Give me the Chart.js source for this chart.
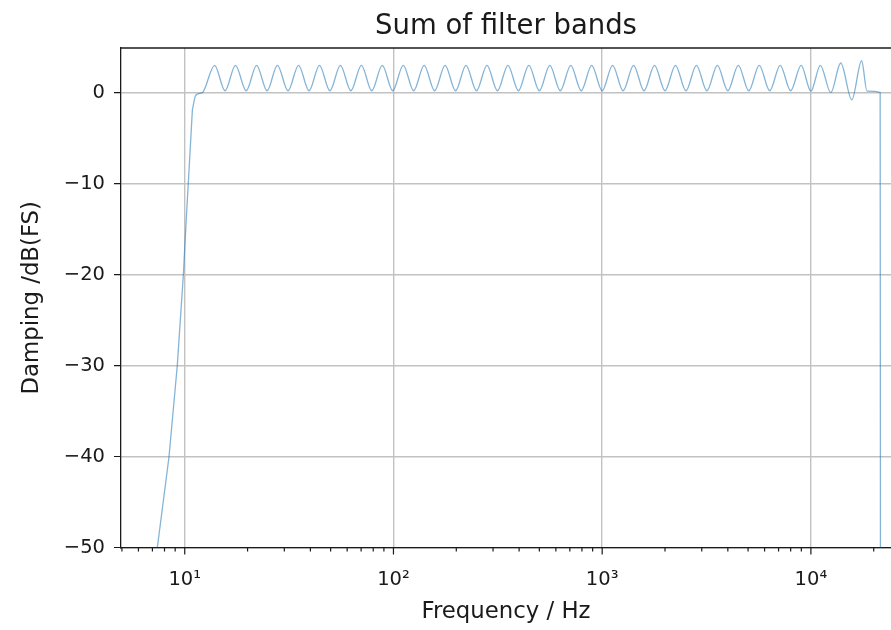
<!DOCTYPE html>
<html>
<head>
<meta charset="utf-8">
<title>Sum of filter bands</title>
<script src="https://cdn.jsdelivr.net/npm/chart.js@4.4.1/dist/chart.umd.min.js"></script>
<style>
    html, body { margin: 0; padding: 0; background: #fff; overflow: hidden; }
    #wrap { width: 891px; height: 630px; position: relative; }
</style>
</head>
<body>
<div id="wrap"><canvas id="chart"></canvas></div>
<script>
// summed response of the 1/3-octave bank
// steep low-frequency edge (drawn with straight segments)
const edgeFreqHz = [7.39, 8.41, 9.21, 9.85, 10.11, 10.88];
const edgeDampingDb = [-50, -40, -30, -20, -15, -1.9];

// knee, ripple and high-frequency cut-off
const freqHz = [
    10.88, 11.29, 12.15,
    13.9, 15.6, 17.5, 19.7, 22.1, 24.8, 27.8, 31.25, 35.1, 39.4,
    44.2, 49.6, 55.7, 62.5, 70.2, 78.7, 88.4, 99.2,
    111.4, 125, 140.3, 157.5, 176.8, 198.4, 222.7, 250, 280.6, 315,
    353.6, 396.9, 445.4, 500, 561.2, 630, 707.1, 793.7, 890.9, 1000,
    1122, 1260, 1414, 1587, 1782, 2000, 2245, 2520, 2828, 3175,
    3564, 4000, 4490, 5040, 5657, 6350, 7127, 8000, 8980, 10000,
    11100, 12450, 13900, 15700, 17500, 18580, 21470, 21550
];
const dampingDb = [
    -1.9, -0.3, 0,
    3.0, 0.2, 3.0, 0.2, 3.0, 0.2, 3.0, 0.2, 3.0, 0.2,
    3.0, 0.2, 3.0, 0.2, 3.0, 0.2, 3.0, 0.2,
    3.0, 0.2, 3.0, 0.2, 3.0, 0.2, 3.0, 0.2, 3.0, 0.2,
    3.0, 0.2, 3.0, 0.2, 3.0, 0.2, 3.0, 0.2, 3.0, 0.2,
    3.0, 0.2, 3.0, 0.2, 3.0, 0.2, 3.0, 0.2, 3.0, 0.2,
    3.0, 0.2, 3.0, 0.2, 3.0, 0.2, 3.0, 0.2, 3.0, 0.15,
    3.0, 0.0, 3.25, -0.8, 3.5, 0.15, 0.0, -60
];

const xMajorTicks = [10, 100, 1000, 10000];
const xTickLabels = ['10¹', '10²', '10³', '10⁴'];
const xMinorTicks = [
    5, 6, 7, 8, 9,
    20, 30, 40, 50, 60, 70, 80, 90,
    200, 300, 400, 500, 600, 700, 800, 900,
    2000, 3000, 4000, 5000, 6000, 7000, 8000, 9000,
    20000
];
const yTicks = [-50, -40, -30, -20, -10, 0];
const yTickLabels = ['−50', '−40', '−30', '−20', '−10', '0'];

const FONT = 'DejaVu Sans';
const INK = '#1a1a1a';
const LINE = 'rgba(31, 119, 180, 0.55)';

const toPoints = (xs, ys) => xs.map((x, i) => ({ x, y: ys[i] }));

// top spine, tick marks (major + minor) and the title centred over the axes
const axesFrame = {
    id: 'axesFrame',
    afterDraw(chart) {
        const { ctx, chartArea: area, scales: { x, y } } = chart;
        ctx.save();
        ctx.strokeStyle = INK;
        ctx.lineWidth = 1.3;
        ctx.beginPath();
        ctx.moveTo(area.left, area.top);
        ctx.lineTo(area.right, area.top);
        ctx.stroke();

        ctx.lineWidth = 1.2;
        ctx.beginPath();
        xMajorTicks.forEach((v) => {
            const px = x.getPixelForValue(v);
            ctx.moveTo(px, area.bottom);
            ctx.lineTo(px, area.bottom + 7);
        });
        xMinorTicks.forEach((v) => {
            const px = x.getPixelForValue(v);
            if (px < area.left || px > area.right) return;
            ctx.moveTo(px, area.bottom);
            ctx.lineTo(px, area.bottom + 4);
        });
        yTicks.forEach((v) => {
            const py = y.getPixelForValue(v);
            ctx.moveTo(area.left - 7, py);
            ctx.lineTo(area.left, py);
        });
        ctx.stroke();

        ctx.fillStyle = INK;
        ctx.font = `27.5px "${FONT}"`;
        ctx.textAlign = 'center';
        ctx.textBaseline = 'alphabetic';
        ctx.fillText('Sum of filter bands', (area.left + area.right) / 2, 34);
        ctx.restore();
    }
};

new Chart(document.getElementById('chart'), {
    type: 'line',
    data: {
        datasets: [{
            data: toPoints(edgeFreqHz, edgeDampingDb),
            borderColor: LINE,
            borderWidth: 1.3,
            pointRadius: 0,
            fill: false,
            tension: 0
        }, {
            data: toPoints(freqHz, dampingDb),
            borderColor: LINE,
            borderWidth: 1.3,
            pointRadius: 0,
            fill: false,
            cubicInterpolationMode: 'monotone'
        }]
    },
    options: {
        responsive: true,
        maintainAspectRatio: false,
        animation: false,
        layout: { padding: { top: 48, left: 0, right: 0, bottom: 0 } },
        plugins: {
            legend: { display: false },
            tooltip: { enabled: false },
            title: { display: false }
        },
        scales: {
            x: {
                type: 'logarithmic',
                min: 4.95,
                max: 24200,
                afterBuildTicks: (scale) => {
                    scale.ticks = xMajorTicks.map((v) => ({ value: v }));
                },
                afterFit: (scale) => { scale.height = 82.5; },
                ticks: {
                    autoSkip: false,
                    maxRotation: 0,
                    padding: 21,
                    color: INK,
                    font: { family: FONT, size: 19.5 },
                    callback: (value, index) => xTickLabels[index]
                },
                grid: { color: '#c2c2c2', lineWidth: 1.4, drawTicks: false },
                border: { display: true, color: INK, width: 1.3 },
                title: {
                    display: true,
                    text: 'Frequency / Hz',
                    color: INK,
                    font: { family: FONT, size: 22.8 },
                    padding: { top: 0, bottom: 4 }
                }
            },
            y: {
                min: -50,
                max: 4.9,
                afterBuildTicks: (scale) => {
                    scale.ticks = yTicks.map((v) => ({ value: v }));
                },
                afterFit: (scale) => { scale.width = 121; },
                ticks: {
                    padding: 16,
                    color: INK,
                    font: { family: FONT, size: 19.5 },
                    callback: (value, index) => yTickLabels[index]
                },
                grid: { color: '#c2c2c2', lineWidth: 1.4, drawTicks: false },
                border: { display: true, color: INK, width: 1.3 },
                title: {
                    display: true,
                    text: 'Damping /dB(FS)',
                    color: INK,
                    font: { family: FONT, size: 22.8 },
                    padding: { top: 18, bottom: 0 }
                }
            }
        }
    },
    plugins: [axesFrame]
});
</script>
</body>
</html>
